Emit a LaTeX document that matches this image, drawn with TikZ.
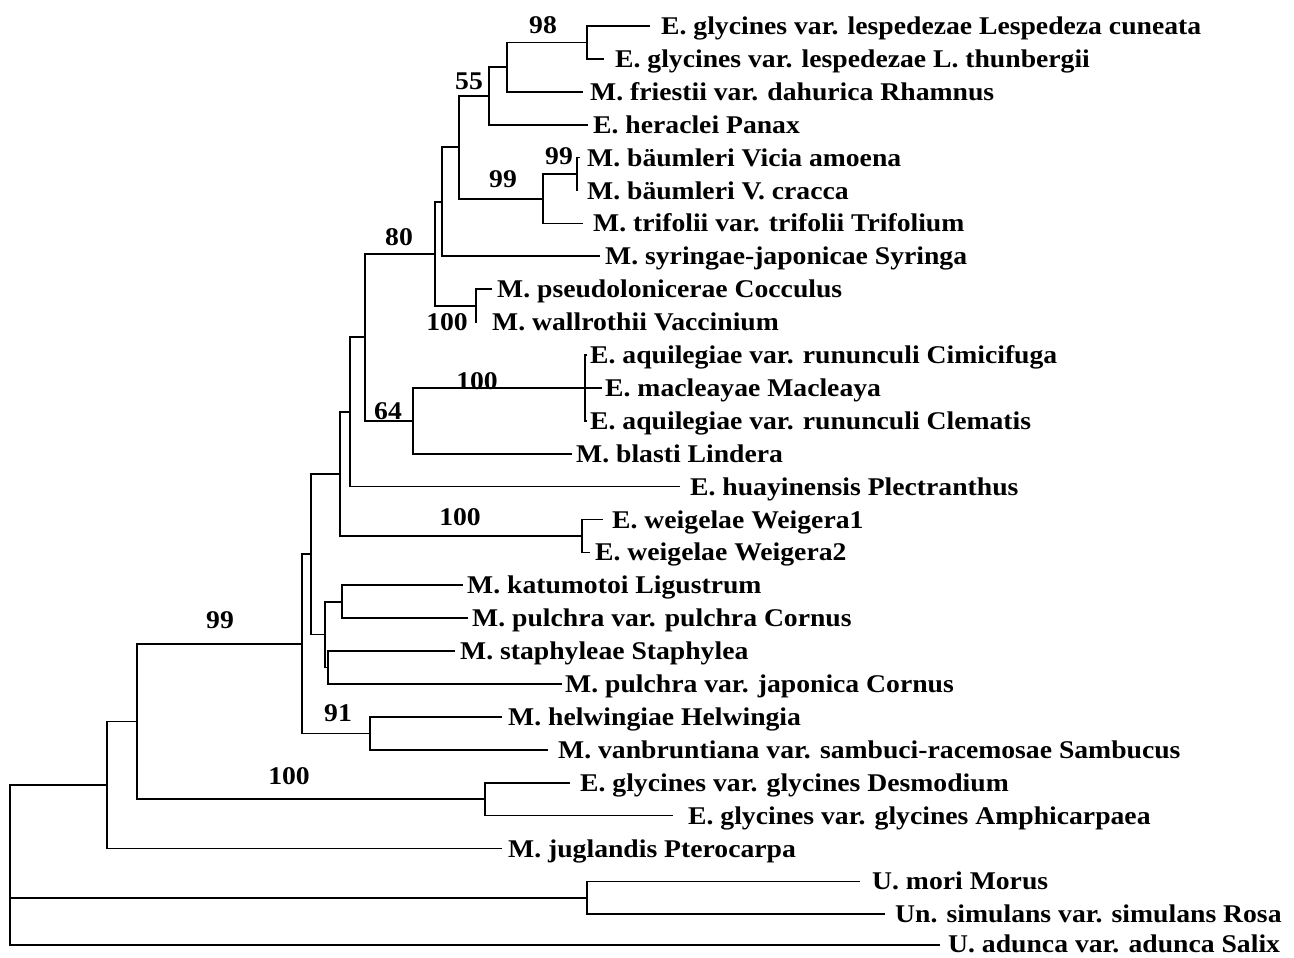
\documentclass[tikz,border=0pt]{standalone}
\usepackage{fontspec}
\setmainfont{Liberation Serif}[FakeStretch=1.085]
\begin{document}
\begin{tikzpicture}[x=1pt,y=-1pt,
  br/.style={line width=1.7pt},
  leaf/.style={anchor=base west, inner sep=0pt, font=\fontsize{25.5}{27}\selectfont\bfseries},
  bs/.style={anchor=center, inner sep=0pt, font=\fontsize{25.5}{27}\selectfont\bfseries}]
\useasboundingbox (0,0) rectangle (1294,958);
% internal nodes
\coordinate (root) at (10,865);
\coordinate (R) at (107,785);
\coordinate (S) at (137,721.5);
\coordinate (T) at (302,643.8);
\coordinate (N) at (311,554.3);
\coordinate (L) at (340,474);
\coordinate (K) at (350,412);
\coordinate (H) at (365,337.3);
\coordinate (F) at (435,253.7);
\coordinate (E) at (442,201.8);
\coordinate (C) at (459,147.3);
\coordinate (B) at (489,95.9);
\coordinate (A) at (507,67.1);
\coordinate (n98) at (587,42.45);
\coordinate (D) at (543,198.7);
\coordinate (n99) at (577,174.05);
\coordinate (G) at (476,305.65);
\coordinate (I) at (413,420.8);
\coordinate (J) at (585,387.9);
\coordinate (M) at (582,536);
\coordinate (O) at (325,634.6);
\coordinate (P) at (342,601.75);
\coordinate (Q) at (328,667.5);
\coordinate (U) at (370,733.35);
\coordinate (V) at (485,799.15);
\coordinate (W) at (587,897.85);
% leaf ends
\coordinate (e1) at (650,26);
\coordinate (e2) at (604,58.9);
\coordinate (e3) at (583,91.8);
\coordinate (e4) at (588,124.7);
\coordinate (e5) at (580,157.6);
\coordinate (e6) at (578,190.5);
\coordinate (e7) at (583,223.4);
\coordinate (e8) at (600,256.3);
\coordinate (e9) at (492,289.2);
\coordinate (e10) at (477,322.1);
\coordinate (e11) at (587,355);
\coordinate (e12) at (602,387.9);
\coordinate (e13) at (587,420.8);
\coordinate (e14) at (572,453.7);
\coordinate (e15) at (680,486.6);
\coordinate (e16) at (603,519.5);
\coordinate (e17) at (590,552.4);
\coordinate (e18) at (463,585.3);
\coordinate (e19) at (468,618.2);
\coordinate (e20) at (455,651.1);
\coordinate (e21) at (562,684);
\coordinate (e22) at (502,716.9);
\coordinate (e23) at (548,749.8);
\coordinate (e24) at (570,782.7);
\coordinate (e25) at (673,815.6);
\coordinate (e26) at (502,848.5);
\coordinate (e27) at (860,881.4);
\coordinate (e28) at (885,914.3);
\coordinate (e29) at (940,945);
% leaf labels
\node[leaf] (t1) at (661,34.5) {E. glycines var. lespedezae Lespedeza cuneata};
\node[leaf] (t2) at (615,67.4) {E. glycines var. lespedezae L. thunbergii};
\node[leaf] (t3) at (590,100.3) {M. friestii var. dahurica Rhamnus};
\node[leaf] (t4) at (593,133.2) {E. heraclei Panax};
\node[leaf] (t5) at (587,166.1) {M. bäumleri Vicia amoena};
\node[leaf] (t6) at (587,199) {M. bäumleri V. cracca};
\node[leaf] (t7) at (593,231.9) {M. trifolii var. trifolii Trifolium};
\node[leaf] (t8) at (605,264.8) {M. syringae-japonicae Syringa};
\node[leaf] (t9) at (497,297.7) {M. pseudolonicerae Cocculus};
\node[leaf] (t10) at (492,330.6) {M. wallrothii Vaccinium};
\node[leaf] (t11) at (590,363.5) {E. aquilegiae var. rununculi Cimicifuga};
\node[leaf] (t12) at (605,396.4) {E. macleayae Macleaya};
\node[leaf] (t13) at (590,429.3) {E. aquilegiae var. rununculi Clematis};
\node[leaf] (t14) at (576,462.2) {M. blasti Lindera};
\node[leaf] (t15) at (690,495.1) {E. huayinensis Plectranthus};
\node[leaf] (t16) at (612,528) {E. weigelae Weigera1};
\node[leaf] (t17) at (595,560.9) {E. weigelae Weigera2};
\node[leaf] (t18) at (467,593.8) {M. katumotoi Ligustrum};
\node[leaf] (t19) at (472,626.7) {M. pulchra var. pulchra Cornus};
\node[leaf] (t20) at (460,659.6) {M. staphyleae Staphylea};
\node[leaf] (t21) at (565,692.5) {M. pulchra var. japonica Cornus};
\node[leaf] (t22) at (508,725.4) {M. helwingiae Helwingia};
\node[leaf] (t23) at (558,758.3) {M. vanbruntiana var. sambuci-racemosae Sambucus};
\node[leaf] (t24) at (580,791.2) {E. glycines var. glycines Desmodium};
\node[leaf] (t25) at (688,824.1) {E. glycines var. glycines Amphicarpaea};
\node[leaf] (t26) at (508,857) {M. juglandis Pterocarpa};
\node[leaf] (t27) at (872,889.9) {U. mori Morus};
\node[leaf] (t28) at (895,922.8) {Un. simulans var. simulans Rosa};
\node[leaf] (t29) at (948,952.5) {U. adunca var. adunca Salix};
% bootstrap values
\node[bs] (b98) at (543,25) {98};
\node[bs] (b55) at (469,81) {55};
\node[bs] (b99a) at (559,156) {99};
\node[bs] (b99b) at (503,179) {99};
\node[bs] (b80) at (399,237) {80};
\node[bs] (b100a) at (447,322) {100};
\node[bs] (b100b) at (477,381) {100};
\node[bs] (b64) at (388,411) {64};
\node[bs] (b100c) at (460,517) {100};
\node[bs] (b99c) at (220,620) {99};
\node[bs] (b91) at (338,713) {91};
\node[bs] (b100d) at (289,776) {100};
% branches
\draw[br] (root) |- (R);
\draw[br] (root) |- (W);
\draw[br] (root) |- (e29);
\draw[br] (R) |- (S);
\draw[br] (R) |- (e26);
\draw[br] (S) |- (T);
\draw[br] (S) |- (V);
\draw[br] (T) |- (N);
\draw[br] (T) |- (U);
\draw[br] (N) |- (L);
\draw[br] (N) |- (O);
\draw[br] (L) |- (K);
\draw[br] (L) |- (M);
\draw[br] (K) |- (H);
\draw[br] (K) |- (e15);
\draw[br] (H) |- (F);
\draw[br] (H) |- (I);
\draw[br] (F) |- (E);
\draw[br] (F) |- (G);
\draw[br] (E) |- (C);
\draw[br] (E) |- (e8);
\draw[br] (C) |- (B);
\draw[br] (C) |- (D);
\draw[br] (B) |- (A);
\draw[br] (B) |- (e4);
\draw[br] (A) |- (n98);
\draw[br] (A) |- (e3);
\draw[br] (n98) |- (e1);
\draw[br] (n98) |- (e2);
\draw[br] (D) |- (n99);
\draw[br] (D) |- (e7);
\draw[br] (n99) |- (e5);
\draw[br] (n99) |- (e6);
\draw[br] (G) |- (e9);
\draw[br] (G) |- (e10);
\draw[br] (I) |- (J);
\draw[br] (I) |- (e14);
\draw[br] (J) |- (e11);
\draw[br] (J) |- (e12);
\draw[br] (J) |- (e13);
\draw[br] (M) |- (e16);
\draw[br] (M) |- (e17);
\draw[br] (O) |- (P);
\draw[br] (O) |- (Q);
\draw[br] (P) |- (e18);
\draw[br] (P) |- (e19);
\draw[br] (Q) |- (e20);
\draw[br] (Q) |- (e21);
\draw[br] (U) |- (e22);
\draw[br] (U) |- (e23);
\draw[br] (V) |- (e24);
\draw[br] (V) |- (e25);
\draw[br] (W) |- (e27);
\draw[br] (W) |- (e28);
\end{tikzpicture}
\end{document}
